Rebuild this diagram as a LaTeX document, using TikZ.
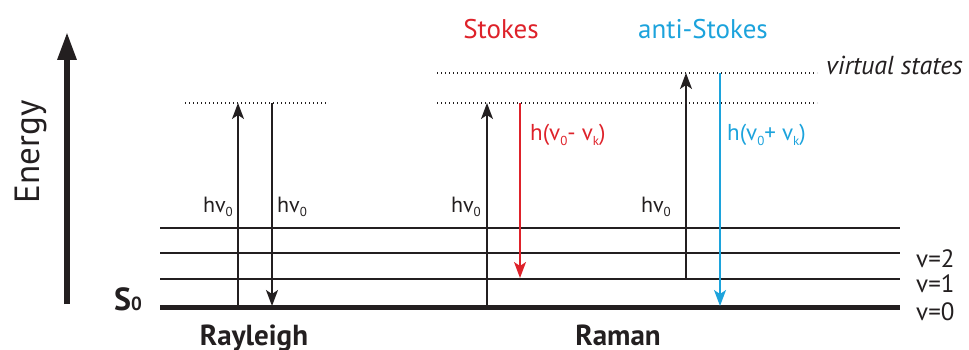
\documentclass[tikz,border=0pt]{standalone}
\usepackage{fontspec}
\setmainfont{PT Sans}
\usetikzlibrary{arrows.meta}
\definecolor{stokesred}{RGB}{222,34,42}
\definecolor{asblue}{RGB}{28,163,220}
\definecolor{ink}{RGB}{35,31,32}
\newcommand\lowsub[1]{\raisebox{-0.45ex}{\fontsize{13}{13}\selectfont #1}}
\begin{document}
\begin{tikzpicture}[x=1pt,y=-1pt,
  level/.style={line width=1.6pt, draw=ink},
  ground/.style={line width=5pt, draw=ink},
  virt/.style={line width=1.3pt, dash pattern=on 1.3pt off 2.7pt, draw=ink},
  photon/.style={line width=1.5pt, -{Stealth[length=16pt,width=12pt,inset=4pt]}},
  lab/.style={font=\fontsize{22}{24}\selectfont, inner sep=0pt, text=ink},
  vlab/.style={font=\fontsize{25}{27}\selectfont, inner sep=0pt, text=ink, anchor=base west},
  title/.style={font=\fontsize{27}{29}\selectfont, inner sep=0pt},
  bold/.style={font=\bfseries\fontsize{29}{31}\selectfont, inner sep=0pt, text=ink}
]
\useasboundingbox (0,0) rectangle (969,350);

% energy axis
\coordinate (Ebot) at (67,304);
\coordinate (Etop) at (67,32);
\draw[line width=6pt, draw=ink, -{Stealth[length=28pt,width=18pt,inset=0pt]}] (Ebot) -- (Etop);
\node[rotate=90, font=\fontsize{35}{37}\selectfont, text=ink] (energy) at (31,152) {Energy};
\node[anchor=base west, inner sep=0pt, text=ink, font=\bfseries\fontsize{32}{34}\selectfont] (s0) at (114,310) {S\fontsize{19}{19}\selectfont 0};

% levels
\coordinate (L0w) at (160,307); \coordinate (L0e) at (900,307);
\coordinate (L1w) at (160,279); \coordinate (L1e) at (900,279);
\coordinate (L2w) at (160,253); \coordinate (L2e) at (900,253);
\coordinate (L3w) at (160,228); \coordinate (L3e) at (900,228);
\draw[level] (L3w) -- (L3e);
\draw[level] (L2w) -- (L2e);
\draw[level] (L1w) -- (L1e);
\draw[ground] (L0w) -- (L0e);
\node[vlab] (v2) at (916,267) {v=2};
\node[vlab] (v1) at (916,292) {v=1};
\node[vlab] (v0) at (916,320) {v=0};

% virtual states
\coordinate (VRw) at (185,103); \coordinate (VRe) at (327,103);
\coordinate (VAw) at (437,103); \coordinate (VAe) at (817,103);
\coordinate (VBw) at (437,73);  \coordinate (VBe) at (817,73);
\draw[virt] (VRw) -- (VRe);
\draw[virt] (VAw) -- (VAe);
\draw[virt] (VBw) -- (VBe);
\node[lab, anchor=base west, font=\itshape\fontsize{26}{28}\selectfont] (vs) at (826,75) {virtual states};

% Rayleigh
\coordinate (R1a) at (238,307); \coordinate (R1b) at (238,103);
\coordinate (R2a) at (272,103); \coordinate (R2b) at (272,306);
\draw[photon, draw=ink, fill=ink] (R1a) -- (R1b);
\draw[photon, draw=ink, fill=ink] (R2a) -- (R2b);
\node[lab, anchor=base east] (hr1) at (233,212) {hv\lowsub{0}};
\node[lab, anchor=base west] (hr2) at (277,212) {hv\lowsub{0}};
\node[bold, anchor=base] (rayleigh) at (254,345) {Rayleigh};

% Raman Stokes
\coordinate (S1a) at (487,307); \coordinate (S1b) at (487,103);
\coordinate (S2a) at (520,103); \coordinate (S2b) at (520,278);
\draw[photon, draw=ink, fill=ink] (S1a) -- (S1b);
\draw[photon, draw=stokesred, fill=stokesred] (S2a) -- (S2b);
\node[lab, anchor=base east] (hs1) at (481,212) {hv\lowsub{0}};
\node[lab, anchor=base west, text=stokesred, font=\fontsize{23}{25}\selectfont] (hs2) at (530,140) {h(v\lowsub{0}- v\lowsub{k})};
\node[title, anchor=base, text=stokesred] (stokes) at (501,39) {Stokes};

% Raman anti-Stokes
\coordinate (A1a) at (686,279); \coordinate (A1b) at (686,73);
\coordinate (A2a) at (720,73);  \coordinate (A2b) at (720,306);
\draw[photon, draw=ink, fill=ink] (A1a) -- (A1b);
\draw[photon, draw=asblue, fill=asblue] (A2a) -- (A2b);
\node[lab, anchor=base east] (ha1) at (671,212) {hv\lowsub{0}};
\node[lab, anchor=base west, text=asblue, font=\fontsize{23}{25}\selectfont] (ha2) at (727,140) {h(v\lowsub{0}+ v\lowsub{k})};
\node[title, anchor=base, text=asblue] (astokes) at (703,39) {anti-Stokes};

\node[bold, anchor=base] (raman) at (618,345) {Raman};
\end{tikzpicture}
\end{document}
